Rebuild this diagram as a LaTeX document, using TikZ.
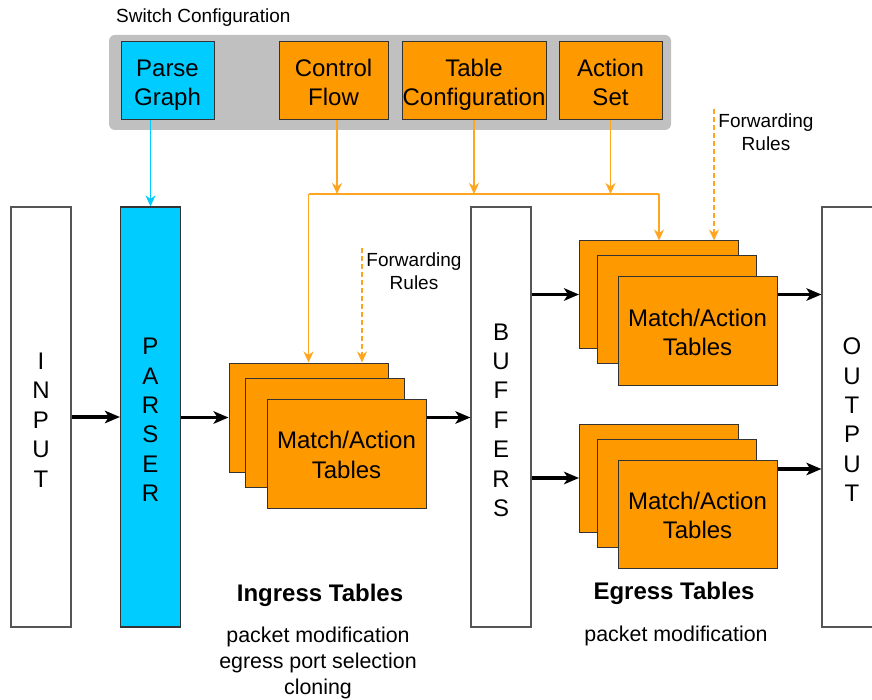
\documentclass[tikz,border=0pt]{standalone}
\usepackage{fontspec}
\setmainfont{Liberation Sans}
\usetikzlibrary{arrows.meta}
\definecolor{cfgorange}{HTML}{FF9900}
\definecolor{cfgline}{HTML}{FFA520}
\definecolor{cfgcyan}{HTML}{00CCFF}
\definecolor{cfggray}{HTML}{C0C0C0}
\definecolor{edgedark}{HTML}{333333}
\definecolor{edgegray}{HTML}{555555}

\begin{document}
\begin{tikzpicture}[x=1pt,y=-1pt,
  fbig/.style={font=\fontsize{24}{29.4}\selectfont},
  fsmall/.style={font=\fontsize{19}{23.5}\selectfont},
  fnote/.style={font=\fontsize{21.4}{26}\selectfont},
  fhead/.style={font=\bfseries\fontsize{24}{28}\selectfont},
  cfgbox/.style={draw=edgedark, line width=1pt, inner sep=0pt, align=center, fbig,
    text height=55.4pt, text depth=6pt},
  column/.style={draw=edgegray, line width=1.2pt, fill=white, inner sep=0pt, align=center,
    fbig, minimum width=60, minimum height=420, text depth=0pt},
  tablebox/.style={draw=edgedark, line width=1pt, fill=cfgorange, inner sep=0pt, align=center,
    fbig, minimum width=159, minimum height=108, text height=55.4pt, text depth=6pt},
  blk/.style={line width=3.2pt, -{Stealth[length=15pt, width=12.5pt, inset=4pt]}},
  oarrow/.style={draw=cfgline, line width=1.3pt, -{Stealth[length=11pt, width=10pt, inset=3.5pt]}},
  oline/.style={draw=cfgline, line width=1.3pt},
  carrow/.style={draw=cfgcyan, line width=1.3pt, -{Stealth[length=11pt, width=10pt, inset=3.5pt]}},
  rulesdash/.style={dash pattern=on 5pt off 3pt},
  label/.style={inner sep=0pt, align=center}
]
\useasboundingbox (0,0) rectangle (872,700);

% switch configuration panel
\node[label, anchor=west, fsmall] (cfgtitle) at (116,17.5) {Switch Configuration};
\node[fill=cfggray, rounded corners=6pt, minimum width=562, minimum height=95, inner sep=0pt]
  (cfgbg) at (390,82.5) {};
\node[cfgbox, fill=cfgcyan, minimum width=93, minimum height=78] (pg) at (167.5,81) {Parse\\Graph};
\node[cfgbox, fill=cfgorange, minimum width=109, minimum height=78] (cf) at (333.5,81) {Control\\Flow};
\node[cfgbox, fill=cfgorange, minimum width=144, minimum height=78] (tc) at (474,81) {Table\\Configuration};
\node[cfgbox, fill=cfgorange, minimum width=103, minimum height=78] (as) at (610.5,81) {Action\\Set};

% pipeline columns
\node[column, text height=140.1pt] (in) at (41,417) {I\\N\\P\\U\\T};
\node[column, text height=169.5pt, fill=cfgcyan, draw=edgedark] (ps) at (150.5,417) {P\\A\\R\\S\\E\\R};
\node[column, text height=198.9pt] (bf) at (501,417) {B\\U\\F\\F\\E\\R\\S};
\node[column, text height=169.5pt] (out) at (852,417) {O\\U\\T\\P\\U\\T};

% ingress match/action stack
\node[tablebox, minimum height=109] (ib) at (308.5,417.5) {};
\node[tablebox, minimum height=109] (im) at (325,432.5) {};
\node[tablebox, minimum height=109] (if) at (346.5,453.5) {Match/Action\\Tables};

% egress match/action stacks
\node[tablebox, minimum height=107] (ub) at (659,294.5) {};
\node[tablebox, minimum height=107] (um) at (676.5,309.5) {};
\node[tablebox] (uf) at (697.5,331) {Match/Action\\Tables};

\node[tablebox] (lb) at (659,478) {};
\node[tablebox] (lm) at (676.5,493) {};
\node[tablebox] (lf) at (697.5,514) {Match/Action\\Tables};

% packet path
\coordinate (lowout) at (777,469);
\draw[blk] (in.east) -- (ps.west);
\draw[blk] (ps.east |- ib.west) -- (ib.west);
\draw[blk] (if.east |- ib.center) -- (bf.west |- ib.center);
\draw[blk] (bf.east |- ub.west) -- (ub.west);
\draw[blk] (bf.east |- lb.west) -- (lb.west);
\draw[blk] (uf.east |- ub.center) -- (out.west |- ub.center);
\draw[blk] (lf.east |- lowout) -- (out.west |- lowout);

% configuration bus
\coordinate (busL) at (308.5,194);
\coordinate (busR) at (659,194);
\coordinate (cfdrop) at (337,194);
\draw[oline] (busL) -- (busR);
\draw[oarrow] (busL) -- (ib.north);
\draw[oarrow] (busR) -- (ub.north);
\draw[oarrow] (cf.south -| cfdrop) -- (cfdrop);
\draw[oarrow] (tc.south) -- (tc.south |- busL);
\draw[oarrow] (as.south) -- (as.south |- busL);
\draw[carrow] (ps.north |- pg.south) -- (ps.north);

% forwarding rules
\coordinate (fr1) at (362,248);
\coordinate (fr2) at (714,109);
\draw[oarrow, rulesdash] (fr1) -- (fr1 |- ib.north);
\draw[oarrow, rulesdash] (fr2) -- (fr2 |- ub.north);
\node[label, fsmall] (fr1lab) at (414,271) {Forwarding\\Rules};
\node[label, fsmall] (fr2lab) at (766,132) {Forwarding\\Rules};

% captions
\node[label, fhead] (ingcap) at (320,595) {Ingress Tables};
\node[label, fnote, anchor=north] (ingnote) at (318,627) {packet modification\\egress port selection\\cloning};
\node[label, fhead] (egcap) at (674,593) {Egress Tables};
\node[label, fnote, anchor=north] (egnote) at (676,626) {packet modification};
\end{tikzpicture}
\end{document}
